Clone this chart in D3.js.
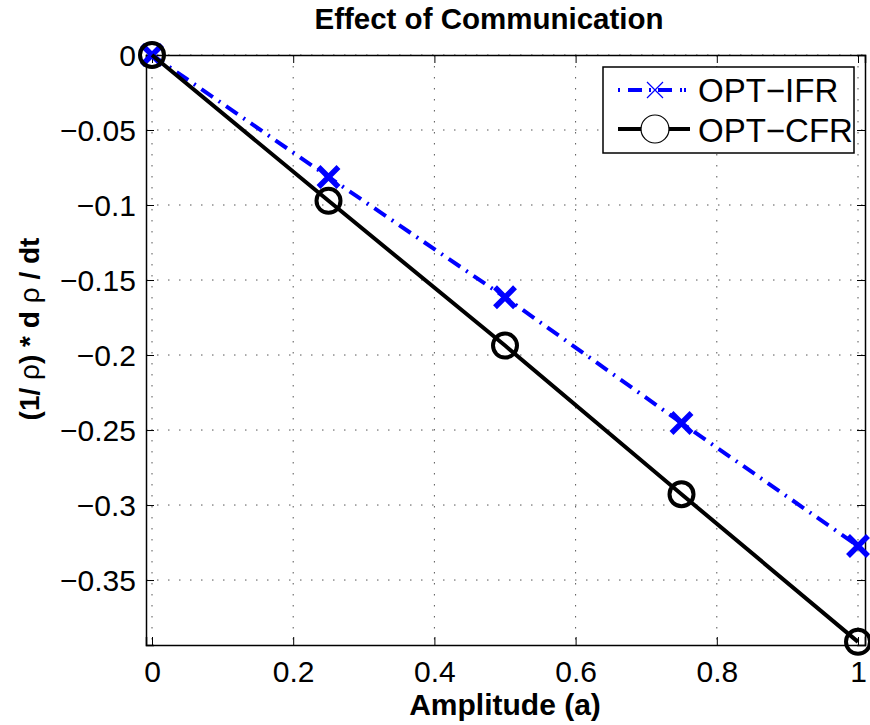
<!DOCTYPE html>
<html>
<head>
<meta charset="utf-8">
<script src="https://cdn.jsdelivr.net/npm/d3@7"></script>
<style>
  body { margin: 0; background: #fff; }
  svg { font-family: "Liberation Sans", Arial, sans-serif; }
  .grid line { stroke: #555; stroke-width: 1; stroke-dasharray: 1.5, 9.5; }
  .tick text { font-size: 30px; fill: #000; }
</style>
</head>
<body>
<div id="chart"></div>
<script>
// values
var amplitude = [0, 0.25, 0.5, 0.75, 1];
var optIFR = [0, -0.0813, -0.1615, -0.2453, -0.3273];
var optCFR = [0, -0.0972, -0.1937, -0.2928, -0.3912];
var xTicks = [0, 0.2, 0.4, 0.6, 0.8, 1];
var yTicks = [0, -0.05, -0.1, -0.15, -0.2, -0.25, -0.3, -0.35];
var seriesNames = ['OPT\u2212IFR', 'OPT\u2212CFR'];

var width = 870, height = 725;
var margin = { top: 55, right: 5, bottom: 80, left: 146 };
var w = width - margin.left - margin.right,
  h = height - margin.top - margin.bottom;

var svg = d3.select('#chart').append('svg')
  .attr('width', width)
  .attr('height', height);

var g = svg.append('g')
  .attr('transform', 'translate(' + margin.left + ',' + margin.top + ')');

var x = d3.scaleLinear().domain([-0.0085, 1.0099]).range([0, w]);
var y = d3.scaleLinear().domain([-0.3933, 0]).range([h, 0]);

function fmt(d) { return d3.format('')(d).replace('-', '\u2212'); }

// grid
g.append('g').attr('class', 'grid')
  .selectAll('line').data(xTicks).enter().append('line')
  .attr('x1', d => x(d)).attr('x2', d => x(d))
  .attr('y1', 0).attr('y2', h);
g.append('g').attr('class', 'grid')
  .selectAll('line').data(yTicks).enter().append('line')
  .attr('y1', d => y(d)).attr('y2', d => y(d))
  .attr('x1', 0).attr('x2', w);

// axes, ticks pointing inward
var xAxis = g.append('g').attr('transform', 'translate(0,' + h + ')')
  .call(d3.axisBottom(x).tickValues(xTicks).tickSize(-8).tickPadding(16).tickFormat(fmt));
var yAxis = g.append('g')
  .call(d3.axisLeft(y).tickValues(yTicks).tickSize(-8).tickPadding(10).tickFormat(fmt));
g.append('g')
  .call(d3.axisTop(x).tickValues(xTicks).tickSize(-8).tickFormat(''));
g.append('g').attr('transform', 'translate(' + w + ',0)')
  .call(d3.axisRight(y).tickValues(yTicks).tickSize(-8).tickFormat(''));

g.selectAll('.domain').attr('stroke', '#000').attr('stroke-width', 1.5);
g.selectAll('.tick line').attr('stroke', '#000').attr('stroke-width', 1);
xAxis.selectAll('.tick text').attr('dy', '0.71em');
yAxis.selectAll('.tick text').attr('dy', '0.36em');

var line = d3.line().x(d => x(d[0])).y(d => y(d[1]));

// OPT-IFR: blue dash-dot with crosses
var ifr = amplitude.map((a, i) => [a, optIFR[i]]);
g.append('path').datum(ifr)
  .attr('d', line)
  .attr('fill', 'none')
  .attr('stroke', '#0000ff')
  .attr('stroke-width', 4)
  .attr('stroke-dasharray', '14,7,2,7');

var cross = 10;
g.selectAll('.xmark').data(ifr).enter().append('path')
  .attr('class', 'xmark')
  .attr('transform', d => 'translate(' + x(d[0]) + ',' + y(d[1]) + ')')
  .attr('d', 'M' + -cross + ',' + -cross + 'L' + cross + ',' + cross + 'M' + -cross + ',' + cross + 'L' + cross + ',' + -cross)
  .attr('stroke', '#0000ff')
  .attr('stroke-width', 5.5);

// OPT-CFR: black solid with circles
var cfr = amplitude.map((a, i) => [a, optCFR[i]]);
g.append('path').datum(cfr)
  .attr('d', line)
  .attr('fill', 'none')
  .attr('stroke', '#000')
  .attr('stroke-width', 4);

g.selectAll('.omark').data(cfr).enter().append('circle')
  .attr('class', 'omark')
  .attr('cx', d => x(d[0]))
  .attr('cy', d => y(d[1]))
  .attr('r', 12)
  .attr('fill', 'none')
  .attr('stroke', '#000')
  .attr('stroke-width', 4);

// title and labels
svg.append('text')
  .attr('x', 489).attr('y', 29)
  .attr('text-anchor', 'middle')
  .style('font-size', '29.5px').style('font-weight', 'bold')
  .text('Effect of Communication');

svg.append('text')
  .attr('x', 505).attr('y', 715)
  .attr('text-anchor', 'middle')
  .style('font-size', '30px').style('font-weight', 'bold')
  .text('Amplitude (a)');

var yl = svg.append('text')
  .attr('transform', 'translate(39,329) rotate(-90)')
  .attr('text-anchor', 'middle')
  .style('font-size', '28px').style('font-weight', 'bold');
yl.append('tspan').text('(1/ ');
yl.append('tspan').style('font-weight', 'normal').text('\u03c1');
yl.append('tspan').text(') * d ');
yl.append('tspan').style('font-weight', 'normal').text('\u03c1');
yl.append('tspan').text(' / dt');

// legend
var leg = svg.append('g').attr('transform', 'translate(603,67)');
leg.append('rect')
  .attr('width', 251).attr('height', 86)
  .attr('fill', '#fff').attr('stroke', '#000').attr('stroke-width', 1.5);

leg.append('line')
  .attr('x1', 15).attr('x2', 83).attr('y1', 23).attr('y2', 23)
  .attr('stroke', '#0000ff').attr('stroke-width', 4)
  .attr('stroke-dasharray', '2,8,14,7,2,7,14,8,2');
leg.append('path')
  .attr('transform', 'translate(52,23)')
  .attr('d', 'M-8,-8L8,8M-8,8L8,-8')
  .attr('stroke', '#0000ff').attr('stroke-width', 1.2);

leg.append('line')
  .attr('x1', 15).attr('x2', 87).attr('y1', 62).attr('y2', 62)
  .attr('stroke', '#000').attr('stroke-width', 4);
leg.append('circle')
  .attr('cx', 52).attr('cy', 62).attr('r', 14)
  .attr('fill', '#fff').attr('stroke', '#000').attr('stroke-width', 1.2);

leg.selectAll('.ltxt').data(seriesNames).enter().append('text')
  .attr('class', 'ltxt')
  .attr('x', 95)
  .attr('y', (d, i) => 35 + i * 40)
  .style('font-size', '33px')
  .text(d => d);
</script>
</body>
</html>
